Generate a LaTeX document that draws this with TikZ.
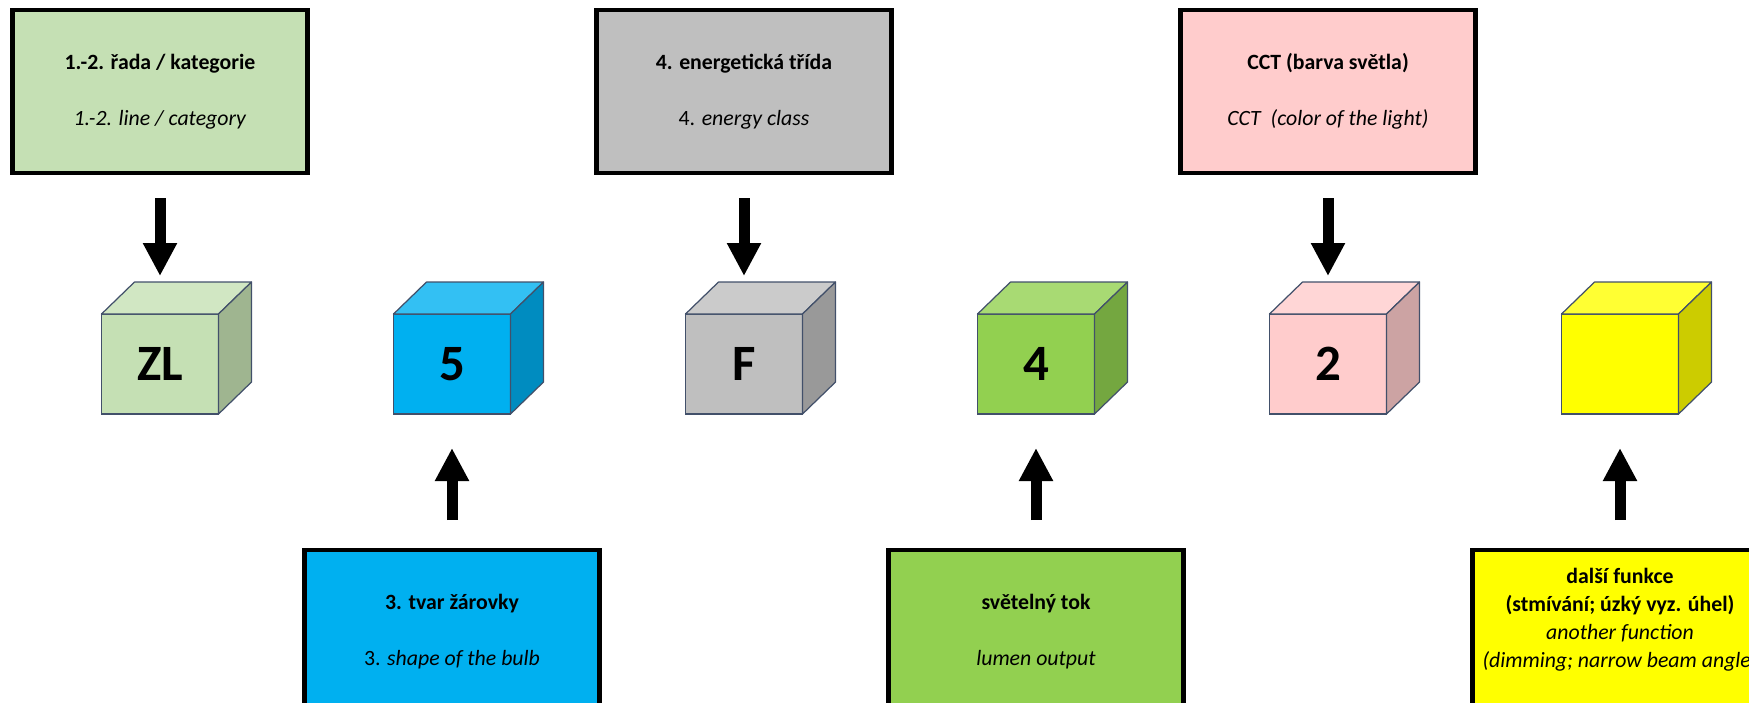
\documentclass[tikz,border=0pt]{standalone}
\usepackage{fontspec}
\setmainfont{Carlito}
\usetikzlibrary{positioning}
\usetikzlibrary{arrows.meta}
\definecolor{catgreen}{HTML}{C5E0B4}
\definecolor{catgreentop}{HTML}{D1E7C3}
\definecolor{catgreenside}{HTML}{9FB590}
\definecolor{bulbblue}{HTML}{00B0F0}
\definecolor{bulbbluetop}{HTML}{33C0F3}
\definecolor{bulbblueside}{HTML}{008CC0}
\definecolor{energygray}{HTML}{BFBFBF}
\definecolor{energygraytop}{HTML}{CBCBCB}
\definecolor{energygrayside}{HTML}{999999}
\definecolor{lumengreen}{HTML}{92D050}
\definecolor{lumengreentop}{HTML}{A8DA73}
\definecolor{lumengreenside}{HTML}{74A740}
\definecolor{cctpink}{HTML}{FFCCCC}
\definecolor{cctpinktop}{HTML}{FFD6D6}
\definecolor{cctpinkside}{HTML}{CCA3A3}
\definecolor{fnyellow}{HTML}{FFFF00}
\definecolor{fnyellowtop}{HTML}{FFFF33}
\definecolor{fnyellowside}{HTML}{CCCC00}
\definecolor{cubeedge}{HTML}{42506A}
\tikzstyle{infobox} = [rectangle, minimum width=5.9cm, minimum height=3.26cm, text centered, align=center, draw=black, line width=2.3pt, font=\fontsize{12.4}{15.9}\selectfont]
\tikzstyle{cubefront} = [rectangle, minimum width=2.34cm, minimum height=2cm, outer sep=0pt, draw=cubeedge, line width=0.7pt, font=\fontsize{29}{31}\selectfont\bfseries]
\tikzstyle{cubeface} = [draw=cubeedge, line width=0.7pt, line join=round]
\tikzstyle{downarrow} = [-{Triangle[width=0.64cm, length=0.66cm]}, line width=0.22cm, shorten <=0.46cm, shorten >=0.76cm]
\tikzstyle{uparrow} = [-{Triangle[width=0.64cm, length=0.66cm]}, line width=0.22cm, shorten <=0.56cm, shorten >=0.68cm]
\begin{document}
\begin{tikzpicture}
		
		\clip (0,0) rectangle (34.98,-14.06);
		
		\node (line_cat) [infobox, fill=catgreen] at (3.2,-1.83) {\textbf{1.-2. řada / kategorie}\\[15.9pt]\textit{1.-2. line / category}};
		
		% cubes
		\node (cube_zl) [cubefront, fill=catgreen, below = 2.78cm of line_cat] {ZL};
		\node (cube_5) [cubefront, fill=bulbblue, right = 3.5cm of cube_zl] {5};
		\node (cube_f) [cubefront, fill=energygray, right = 3.5cm of cube_5] {F};
		\node (cube_4) [cubefront, fill=lumengreen, right = 3.5cm of cube_f] {4};
		\node (cube_2) [cubefront, fill=cctpink, right = 3.5cm of cube_4] {2};
		\node (cube_fn) [cubefront, fill=fnyellow, right = 3.5cm of cube_2] {};
		
		\node (energy_cls) [infobox, fill=energygray, above = 2.78cm of cube_f] {\textbf{4. energetická třída}\\[15.9pt]4. \textit{energy class}};
		\node (cct_box) [infobox, fill=cctpink, above = 2.78cm of cube_2] {\textbf{CCT (barva světla)}\\[15.9pt]\textit{CCT\ \ (color of the light)}};
		
		\node (bulb_shape) [infobox, fill=bulbblue, below = 2.68cm of cube_5] {\textbf{3. tvar žárovky}\\[15.9pt]3. \textit{shape of the bulb}};
		\node (lumen) [infobox, fill=lumengreen, below = 2.68cm of cube_4] {\textbf{světelný tok}\\[15.9pt]\textit{lumen output}};
		\node (extra_fn) [infobox, fill=fnyellow, below = 2.68cm of cube_fn] {\textbf{další funkce}\\\textbf{(stmívání; úzký vyz. úhel)}\\\textit{another function}\\\textit{(dimming; narrow beam angle)}\\\mbox{}};
		
		% top and side faces
		\draw [cubeface, fill=catgreentop] (cube_zl.north west) -- ++(0.66,0.64) -- ++(2.34,0) -- (cube_zl.north east) -- cycle;
		\draw [cubeface, fill=catgreenside] (cube_zl.north east) -- ++(0.66,0.64) -- ++(0,-2) -- (cube_zl.south east) -- cycle;
		\draw [cubeface, fill=bulbbluetop] (cube_5.north west) -- ++(0.66,0.64) -- ++(2.34,0) -- (cube_5.north east) -- cycle;
		\draw [cubeface, fill=bulbblueside] (cube_5.north east) -- ++(0.66,0.64) -- ++(0,-2) -- (cube_5.south east) -- cycle;
		\draw [cubeface, fill=energygraytop] (cube_f.north west) -- ++(0.66,0.64) -- ++(2.34,0) -- (cube_f.north east) -- cycle;
		\draw [cubeface, fill=energygrayside] (cube_f.north east) -- ++(0.66,0.64) -- ++(0,-2) -- (cube_f.south east) -- cycle;
		\draw [cubeface, fill=lumengreentop] (cube_4.north west) -- ++(0.66,0.64) -- ++(2.34,0) -- (cube_4.north east) -- cycle;
		\draw [cubeface, fill=lumengreenside] (cube_4.north east) -- ++(0.66,0.64) -- ++(0,-2) -- (cube_4.south east) -- cycle;
		\draw [cubeface, fill=cctpinktop] (cube_2.north west) -- ++(0.66,0.64) -- ++(2.34,0) -- (cube_2.north east) -- cycle;
		\draw [cubeface, fill=cctpinkside] (cube_2.north east) -- ++(0.66,0.64) -- ++(0,-2) -- (cube_2.south east) -- cycle;
		\draw [cubeface, fill=fnyellowtop] (cube_fn.north west) -- ++(0.66,0.64) -- ++(2.34,0) -- (cube_fn.north east) -- cycle;
		\draw [cubeface, fill=fnyellowside] (cube_fn.north east) -- ++(0.66,0.64) -- ++(0,-2) -- (cube_fn.south east) -- cycle;
		
		% arrows
		\draw [downarrow] (line_cat.south) -- (cube_zl.north);
		\draw [downarrow] (energy_cls.south) -- (cube_f.north);
		\draw [downarrow] (cct_box.south) -- (cube_2.north);
		
		\draw [uparrow] (bulb_shape.north) -- (cube_5.south);
		\draw [uparrow] (lumen.north) -- (cube_4.south);
		\draw [uparrow] (extra_fn.north) -- (cube_fn.south);
		
\end{tikzpicture}
\end{document}
